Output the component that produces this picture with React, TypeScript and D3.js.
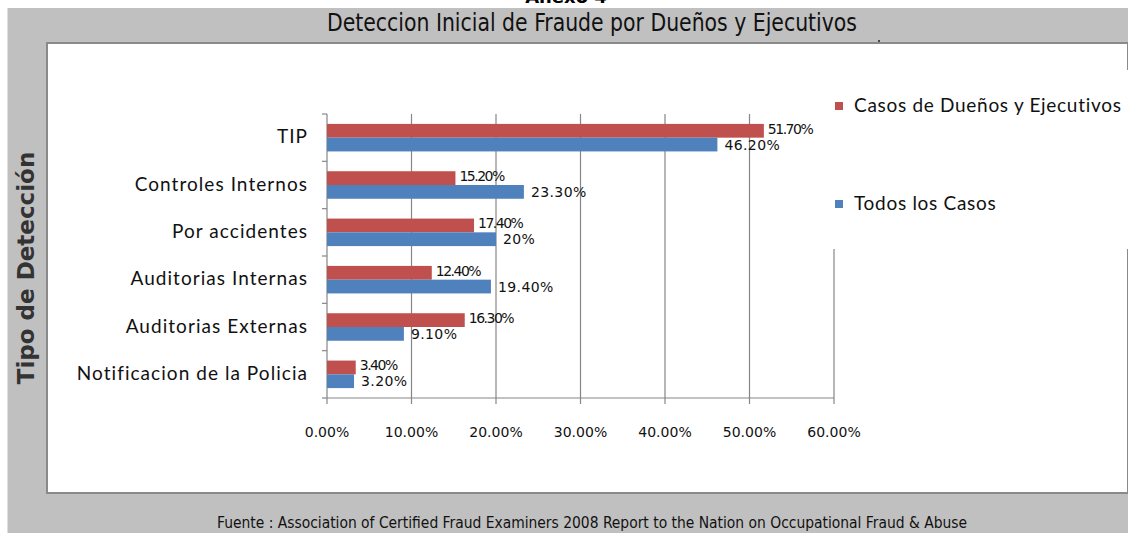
import { useRef, useEffect } from "react";
import * as d3 from "d3";

const categories = [
  "TIP",
  "Controles Internos",
  "Por accidentes",
  "Auditorias Internas",
  "Auditorias Externas",
  "Notificacion de la Policia",
];
const ownersExec = [51.7, 15.2, 17.4, 12.4, 16.3, 3.4];
const allCases = [46.2, 23.3, 20, 19.4, 9.1, 3.2];
const ownersLabels = ["51.70%", "15.20%", "17.40%", "12.40%", "16.30%", "3.40%"];
const allLabels = ["46.20%", "23.30%", "20%", "19.40%", "9.10%", "3.20%"];
const xTicks = [0, 10, 20, 30, 40, 50, 60];
const seriesNames = ["Casos de Dueños y Ejecutivos", "Todos los Casos"];
const seriesColors = ["#C0504D", "#4F81BD"];

const W = 1128;
const H = 533;
const labelFont = "Lato, 'Open Sans', sans-serif";
const numFont = "'DejaVu Sans', sans-serif";
const narrowFont = "'Liberation Sans Narrow', 'DejaVu Sans Condensed', 'Liberation Sans', sans-serif";

export default function App() {
  const svgRef = useRef<SVGSVGElement>(null);

  useEffect(() => {
    if (!svgRef.current) return;
    const svg = d3.select(svgRef.current);
    svg.selectAll("*").remove();

    // page frame: clipped "Anexo 4", grey mat, white chart panel
    svg.append("rect").attr("width", W).attr("height", H).attr("fill", "#fff");
    svg.append("text").attr("x", 566).attr("y", 3).attr("text-anchor", "middle")
      .attr("font-family", numFont).attr("font-weight", "bold").attr("font-size", 18).attr("fill", "#000")
      .text("Anexo 4");
    svg.append("rect").attr("x", 7.5).attr("y", 8).attr("width", W - 7.5).attr("height", H - 8).attr("fill", "#c0c0c0");
    svg.append("rect").attr("x", 47).attr("y", 43).attr("width", W - 47).attr("height", 450)
      .attr("fill", "#fff").attr("stroke", "#8a8a8a").attr("stroke-width", 2);

    svg.append("text").attr("x", 592).attr("y", 31).attr("text-anchor", "middle")
      .attr("font-family", narrowFont).attr("font-size", 24).attr("fill", "#111")
      .attr("textLength", 530).attr("lengthAdjust", "spacingAndGlyphs")
      .text("Deteccion Inicial de Fraude por Dueños y Ejecutivos");
    svg.append("circle").attr("cx", 879).attr("cy", 41).attr("r", 1).attr("fill", "#222");

    svg.append("text").attr("x", 592).attr("y", 528).attr("text-anchor", "middle")
      .attr("font-family", narrowFont).attr("font-size", 16).attr("fill", "#111")
      .attr("textLength", 750).attr("lengthAdjust", "spacingAndGlyphs")
      .text("Fuente : Association of Certified Fraud Examiners 2008 Report to the Nation on Occupational Fraud & Abuse");

    const x = d3.scaleLinear().domain([0, 60]).range([327, 834]);
    const y = d3.scaleBand<string>().domain(categories).range([114, 398]).paddingInner(0);
    const sub = d3.scaleBand<number>().domain([0, 1]).range([0, y.bandwidth()]).paddingOuter(0.72);

    const g = svg.append("g");

    // gridlines
    g.selectAll("line.grid").data(xTicks.slice(1)).join("line")
      .attr("x1", (d) => x(d)).attr("x2", (d) => x(d)).attr("y1", 114).attr("y2", 398)
      .attr("stroke", "#868686").attr("stroke-width", 1.2);

    // axes
    g.append("line").attr("x1", x(0)).attr("x2", x(0)).attr("y1", 114).attr("y2", 398).attr("stroke", "#868686").attr("stroke-width", 1.2);
    g.append("line").attr("x1", x(0)).attr("x2", x(60)).attr("y1", 398).attr("y2", 398).attr("stroke", "#868686").attr("stroke-width", 1.2);
    const bounds = [...categories.map((c) => y(c)!), 398];
    g.selectAll("line.ytick").data(bounds).join("line")
      .attr("x1", x(0) - 5).attr("x2", x(0)).attr("y1", (d) => d).attr("y2", (d) => d)
      .attr("stroke", "#868686").attr("stroke-width", 1.2);
    g.selectAll("line.xtick").data(xTicks).join("line")
      .attr("x1", (d) => x(d)).attr("x2", (d) => x(d)).attr("y1", 398).attr("y2", 404)
      .attr("stroke", "#868686").attr("stroke-width", 1.2);

    g.selectAll("text.xt").data(xTicks).join("text")
      .attr("x", (d) => x(d)).attr("y", 433).attr("text-anchor", "middle").attr("dominant-baseline", "middle")
      .attr("font-family", numFont).attr("font-size", 14).attr("fill", "#111")
      .text((d) => d.toFixed(2) + "%");

    g.selectAll("text.cat").data(categories).join("text")
      .attr("x", 308).attr("y", (d) => y(d)! + y.bandwidth() / 2 + 1).attr("text-anchor", "end")
      .attr("dominant-baseline", "middle").attr("font-family", labelFont).attr("font-size", 19)
      .attr("letter-spacing", 1.05).attr("fill", "#111")
      .text((d) => d);

    // bars + value labels
    const series = [ownersExec, allCases];
    const labels = [ownersLabels, allLabels];
    series.forEach((vals, s) => {
      g.selectAll(`rect.s${s}`).data(vals).join("rect")
        .attr("x", x(0)).attr("y", (_, i) => y(categories[i])! + sub(s)!)
        .attr("width", (d) => x(d) - x(0)).attr("height", sub.bandwidth())
        .attr("fill", seriesColors[s]);
      g.selectAll(`text.l${s}`).data(vals).join("text")
        .attr("x", (d) => x(d) + (s === 0 ? 4 : 7))
        .attr("y", (_, i) => y(categories[i])! + sub(s)! + sub.bandwidth() / 2 + (s === 0 ? -1 : 1))
        .attr("dominant-baseline", "middle").attr("font-family", numFont)
        .attr("font-size", 14).attr("letter-spacing", s === 0 ? -1.5 : 0.4).attr("fill", "#111")
        .text((_, i) => labels[s][i]);
    });

    // legend (white box covers top of the 60% gridline)
    svg.append("rect").attr("x", 828).attr("y", 70).attr("width", W - 828).attr("height", 179).attr("fill", "#fff");
    seriesNames.forEach((name, i) => {
      const cy = 106 + i * 98;
      svg.append("rect").attr("x", 835).attr("y", cy - 4).attr("width", 8).attr("height", 8).attr("fill", seriesColors[i]);
      svg.append("text").attr("x", 854).attr("y", cy + 1).attr("dominant-baseline", "middle")
        .attr("font-family", labelFont).attr("font-size", 19).attr("letter-spacing", 0.7)
        .attr("fill", "#111").text(name);
    });

    // axis title
    svg.append("text").attr("transform", "translate(27,268) rotate(-90)").attr("text-anchor", "middle")
      .attr("dominant-baseline", "middle").attr("font-family", numFont).attr("font-weight", "bold")
      .attr("font-size", 23).attr("fill", "#333").text("Tipo de Detección");
  }, []);

  return (
    <div style={{ position: "absolute", left: 0, top: 0 }}>
      <svg ref={svgRef} width={W} height={H} style={{ display: "block" }} />
    </div>
  );
}
